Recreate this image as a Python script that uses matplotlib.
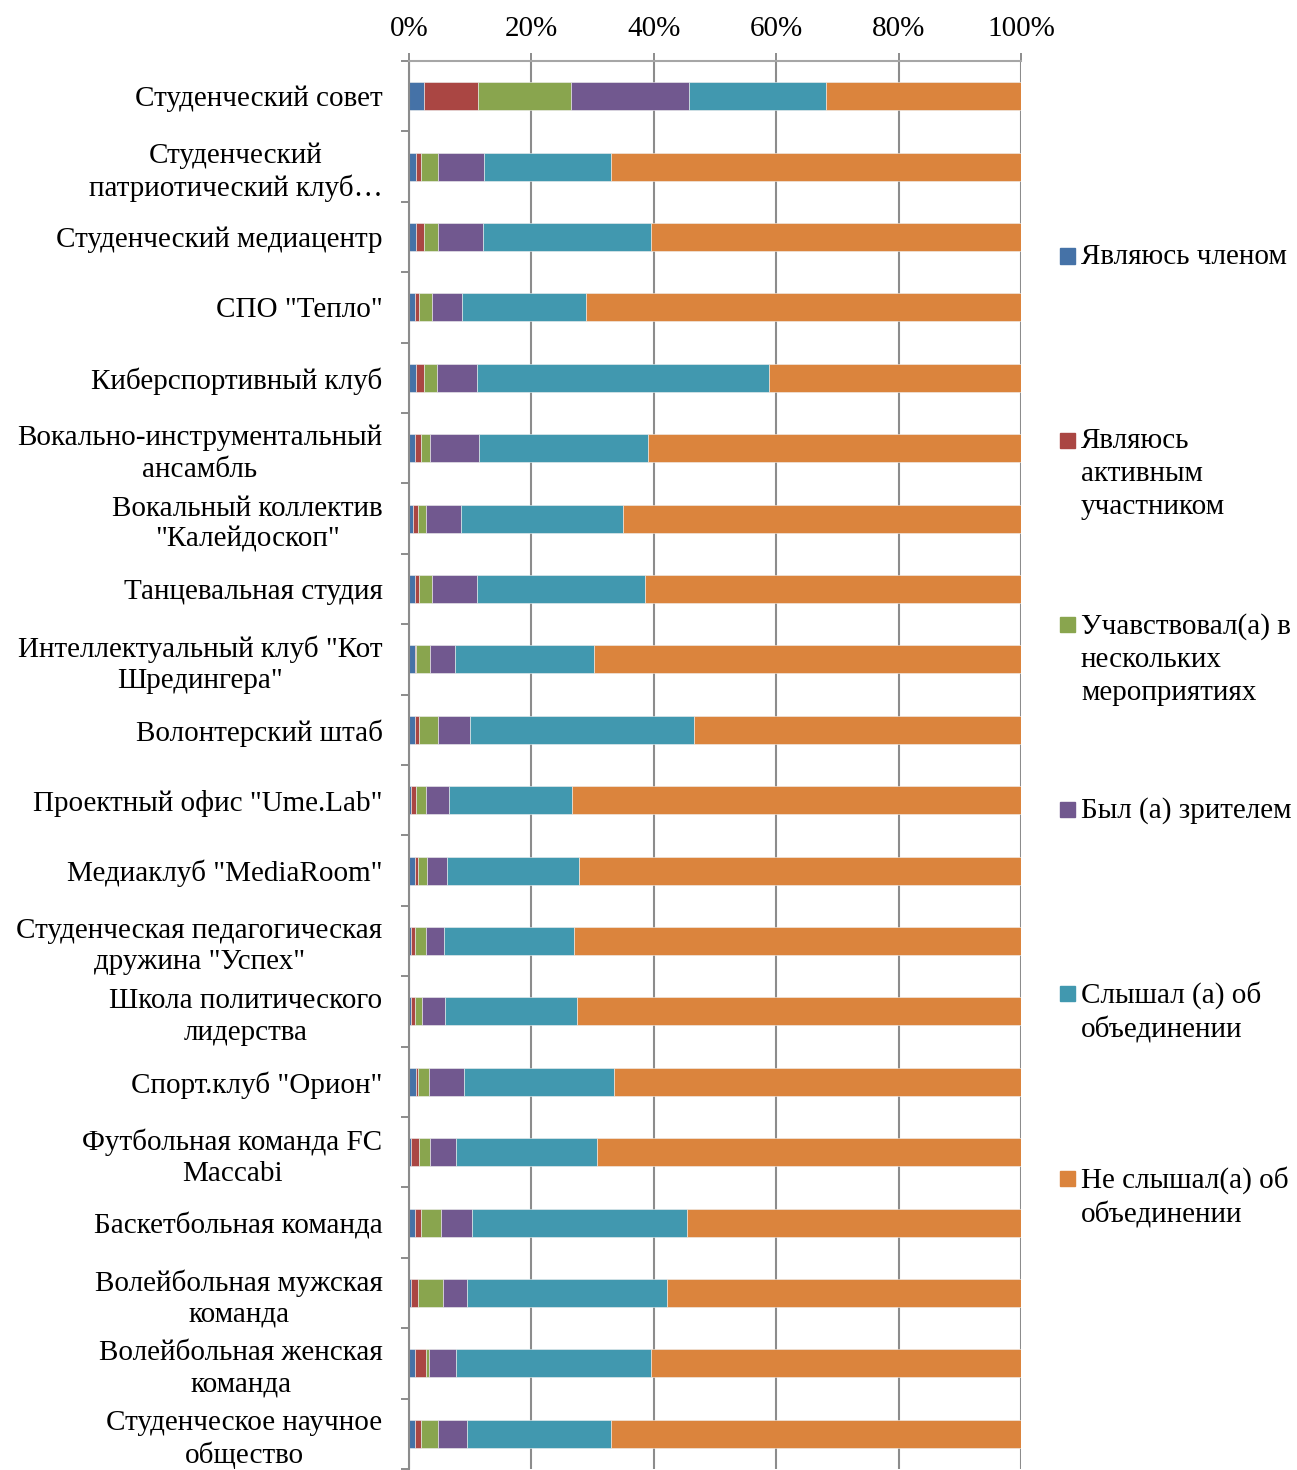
import matplotlib
matplotlib.use('Agg')
import matplotlib.pyplot as plt
import numpy as np

# категории (сверху вниз)
categories = [
    'Студенческий совет',
    'Студенческий\nпатриотический клуб…',
    'Студенческий медиацентр',
    'СПО "Тепло"',
    'Киберспортивный клуб',
    'Вокально-инструментальный\nансамбль',
    'Вокальный коллектив\n"Калейдоскоп"',
    'Танцевальная студия',
    'Интеллектуальный клуб "Кот\nШредингера"',
    'Волонтерский штаб',
    'Проектный офис "Ume.Lab"',
    'Медиаклуб "MediaRoom"',
    'Студенческая педагогическая\nдружина "Успех"',
    'Школа политического\nлидерства',
    'Спорт.клуб "Орион"',
    'Футбольная команда FC\nMaccabi',
    'Баскетбольная команда',
    'Волейбольная мужская\nкоманда',
    'Волейбольная женская\nкоманда',
    'Студенческое научное\nобщество',
]

# доли ответов, %
member = [2.5, 1.2, 1.15, 1.0, 1.15, 1.0, 0.65, 1.0, 1.0, 1.0,
          0.4, 1.0, 0.4, 0.4, 1.15, 0.4, 1.0, 0.4, 1.0, 1.0]
active = [8.8, 0.8, 1.25, 0.6, 1.25, 0.9, 0.75, 0.6, 0.2, 0.6,
          0.75, 0.4, 0.6, 0.6, 0.25, 1.25, 0.9, 1.0, 1.7, 0.9]
events = [15.1, 2.7, 2.3, 2.1, 2.1, 1.6, 1.3, 2.1, 2.3, 3.1,
          1.55, 1.6, 1.7, 1.2, 1.8, 1.85, 3.4, 4.1, 0.5, 2.8]
spectator = [19.4, 7.6, 7.35, 5.0, 6.6, 7.95, 5.8, 7.4, 4.0, 5.3,
             3.85, 3.2, 3.0, 3.75, 5.75, 4.2, 5.0, 4.05, 4.5, 4.85]
heard = [22.4, 20.7, 27.45, 20.2, 47.7, 27.55, 26.4, 27.4, 22.7, 36.6,
         20.1, 21.5, 21.2, 21.55, 24.55, 23.0, 35.1, 32.55, 31.8, 23.45]
not_heard = [31.8, 67.0, 60.5, 71.1, 41.2, 61.0, 65.1, 61.5, 69.8, 53.4,
             73.35, 72.3, 73.1, 72.5, 66.5, 69.3, 54.6, 57.9, 60.5, 67.0]

series_labels = [
    'Являюсь членом',
    'Являюсь\nактивным\nучастником',
    'Учавствовал(а) в\nнескольких\nмероприятиях',
    'Был (а) зрителем',
    'Слышал (а) об\nобъединении',
    'Не слышал(а) об\nобъединении',
]
colors = ['#4572A7', '#AA4643', '#89A54E', '#71588F', '#4198AF', '#DB843D']

plt.rcParams['font.family'] = ['Liberation Serif', 'DejaVu Serif']
plt.rcParams['font.size'] = 21

W, H = 1297, 1470
fig = plt.figure(figsize=(W / 100, H / 100), dpi=100)
ax = fig.add_axes([409 / W, 1 - 1469 / H, (1021 - 409) / W, (1469 - 61) / H])

data = [member, active, events, spectator, heard, not_heard]
y = np.arange(len(categories))
left = np.zeros(len(categories))
for vals, col, lab in zip(data, colors, series_labels):
    vals = np.array(vals)
    ax.barh(y, vals, left=left, height=0.4, color=col, edgecolor='#f0f0f0',
            linewidth=0.4, label=lab)
    left += vals

ax.set_xlim(0, 100)
ax.set_ylim(len(categories) - 0.5, -0.5)

grid_col = '#8c8c8c'
ax.set_xticks([0, 20, 40, 60, 80, 100])
ax.set_xticklabels(['0%', '20%', '40%', '60%', '80%', '100%'])
ax.xaxis.tick_top()
ax.tick_params(axis='x', direction='out', length=6, width=1.4, color=grid_col, pad=8)
ax.set_axisbelow(True)
ax.grid(axis='x', color=grid_col, linewidth=1.5)

ax.set_yticks(y)
ax.set_yticklabels(categories, ha='right', multialignment='center', linespacing=1.26)
ax.tick_params(axis='y', which='major', length=0, pad=19)
ax.set_yticks(np.arange(-0.5, len(categories) + 0.5, 1), minor=True)
ax.tick_params(axis='y', which='minor', direction='out', length=6, width=1.4, color=grid_col)

for s in ['right', 'bottom']:
    ax.spines[s].set_visible(False)
ax.spines['left'].set_color(grid_col)
ax.spines['left'].set_linewidth(1.5)
ax.spines['top'].set_color('#a6a6a6')
ax.spines['top'].set_linewidth(1.5)

# легенда справа
for i, (lab, col) in enumerate(zip(series_labels, colors)):
    yc = 256 + i * 184.4
    fig.patches.append(plt.Rectangle((1060 / W, 1 - (yc + 7.5) / H), 15 / W, 15 / H,
                                     transform=fig.transFigure, color=col))
    fig.text(1081 / W, 1 - (yc - 12) / H, lab, va='top', ha='left', linespacing=1.35)

fig.savefig('out.png', dpi=100)
